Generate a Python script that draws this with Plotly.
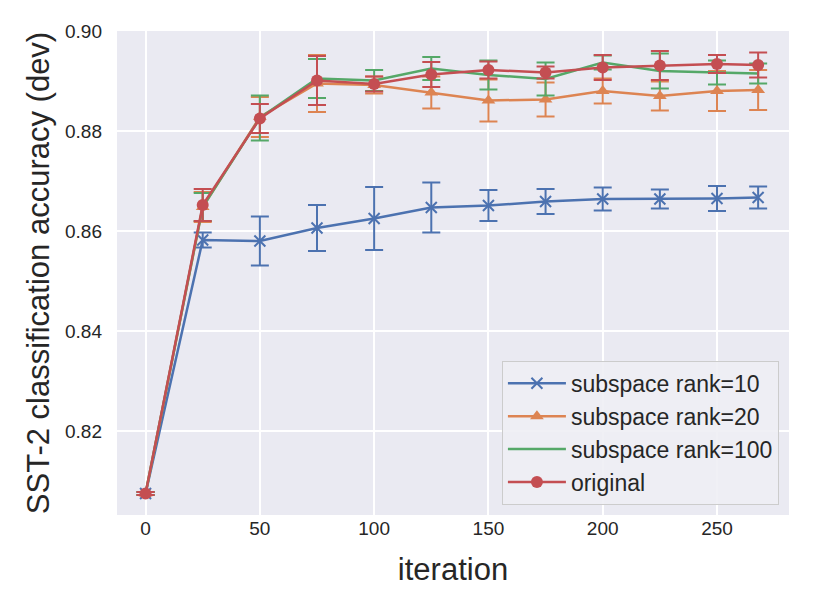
import plotly.graph_objects as go

iterations = [0, 25, 50, 75, 100, 125, 150, 175, 200, 225, 250, 268]

rank10 = [0.8075, 0.8582, 0.8580, 0.8606, 0.8625, 0.8647, 0.8651, 0.8659, 0.8664, 0.8664, 0.8665, 0.8667]
rank10_err = [0.0003, 0.0015, 0.0049, 0.0046, 0.0063, 0.0050, 0.0031, 0.0025, 0.0023, 0.0019, 0.0025, 0.0022]

rank20 = [0.8075, 0.8648, 0.8828, 0.8895, 0.8892, 0.8877, 0.8861, 0.8863, 0.8880, 0.8870, 0.8880, 0.8882]
rank20_err = [0.0003, 0.0030, 0.0040, 0.0057, 0.0017, 0.0032, 0.0042, 0.0034, 0.0025, 0.0029, 0.0040, 0.0040]

rank100 = [0.8075, 0.8648, 0.8826, 0.8905, 0.8901, 0.8925, 0.8912, 0.8904, 0.8937, 0.8920, 0.8917, 0.8915]
rank100_err = [0.0003, 0.0028, 0.0045, 0.0039, 0.0021, 0.0023, 0.0029, 0.0033, 0.0014, 0.0035, 0.0024, 0.0020]

original = [0.8075, 0.8652, 0.8825, 0.8901, 0.8894, 0.8913, 0.8922, 0.8917, 0.8927, 0.8931, 0.8934, 0.8932]
original_err = [0.0003, 0.0032, 0.0029, 0.0049, 0.0015, 0.0025, 0.0017, 0.0012, 0.0025, 0.0029, 0.0018, 0.0025]

series = [
    ("subspace rank=10", rank10, rank10_err, "#4C72B0", dict(symbol="x-thin", size=11, line=dict(width=2, color="#4C72B0"))),
    ("subspace rank=20", rank20, rank20_err, "#DD8452", dict(symbol="triangle-up", size=12)),
    ("subspace rank=100", rank100, rank100_err, "#55A868", None),
    ("original", original, original_err, "#C44E52", dict(symbol="circle", size=12)),
]

fig = go.Figure()
for name, vals, errs, color, mk in series:
    kw = {}
    if mk is not None:
        m = dict(color=color)
        m.update(mk)
        kw["marker"] = m
        mode = "lines+markers"
    else:
        mode = "lines"
    fig.add_trace(go.Scatter(
        x=iterations, y=vals, name=name, mode=mode,
        line=dict(color=color, width=2.5),
        error_y=dict(type="data", array=errs, visible=True, color=color, thickness=2, width=9),
        **kw,
    ))

font = "Liberation Sans, Arial, Helvetica, sans-serif"
fig.update_layout(
    width=806, height=602,
    margin=dict(l=109, r=25, t=23, b=95),
    paper_bgcolor="white", plot_bgcolor="#EAEAF2",
    font=dict(family=font, color="#262626", size=19),
    showlegend=True,
    legend=dict(
        x=0.985, y=0.021, xanchor="right", yanchor="bottom",
        bgcolor="rgba(238,238,244,0.9)", bordercolor="#CCCCCC", borderwidth=1,
        font=dict(size=23, color="#262626"), tracegroupgap=0, itemwidth=58,
    ),
    xaxis=dict(
        range=[-12.5, 281.5], tickvals=[0, 50, 100, 150, 200, 250],
        showgrid=True, gridcolor="white", gridwidth=1.5, zeroline=False,
        showline=False, ticks="", tickfont=dict(size=19), ticklabelstandoff=0,
        title=dict(text="iteration", font=dict(size=31), standoff=20),
    ),
    yaxis=dict(
        range=[0.8032, 0.9], tickvals=[0.82, 0.84, 0.86, 0.88, 0.90], tickformat=".2f",
        showgrid=True, gridcolor="white", gridwidth=1.5, zeroline=False,
        showline=False, ticks="", tickfont=dict(size=19), ticklabelstandoff=14,
        title=dict(text="SST-2 classification accuracy (dev)", font=dict(size=31), standoff=6),
    ),
)

fig.write_html("out.html")
